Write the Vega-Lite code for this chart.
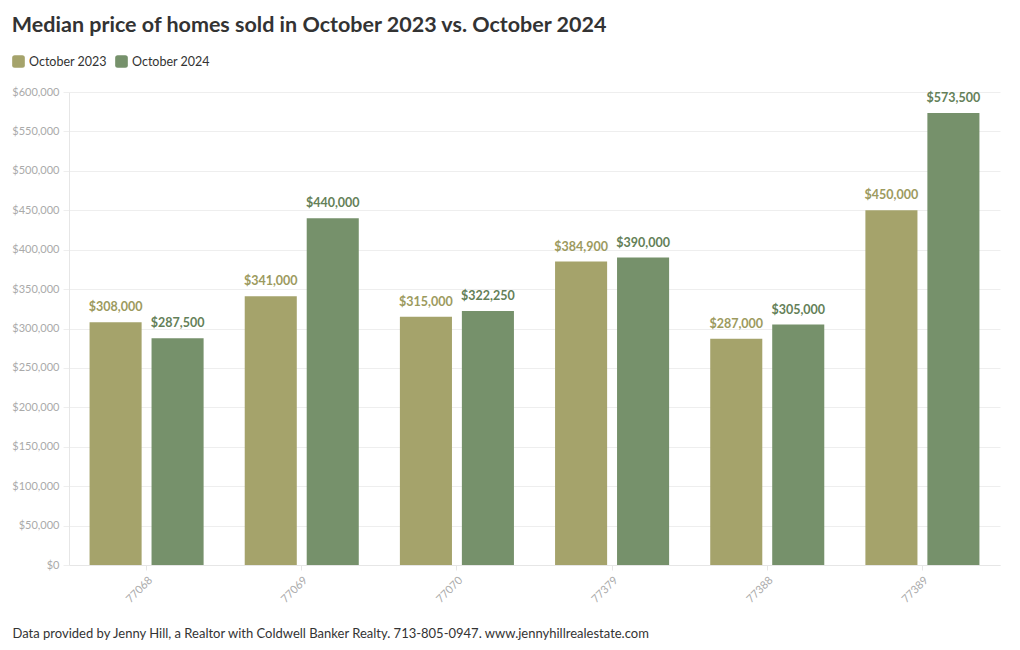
{
  "$schema": "https://vega.github.io/schema/vega-lite/v6.json",
  "width": 1020,
  "height": 650,
  "autosize": {"type": "fit", "contains": "padding"},
  "padding": {"left": 11, "top": 14, "right": 20, "bottom": 10},
  "background": "white",
  "config": {
    "font": "Lato",
    "view": {"stroke": null}
  },
  "title": {
    "text": "Median price of homes sold in October 2023 vs. October 2024",
    "anchor": "start",
    "frame": "bounds",
    "fontSize": 21.5,
    "fontWeight": "bold",
    "color": "#333333",
    "font": "Lato",
    "offset": 50
  },
  "data": {
    "values": [
      {"zip": "77068", "period": "October 2023", "price": 308000},
      {"zip": "77068", "period": "October 2024", "price": 287500},
      {"zip": "77069", "period": "October 2023", "price": 341000},
      {"zip": "77069", "period": "October 2024", "price": 440000},
      {"zip": "77070", "period": "October 2023", "price": 315000},
      {"zip": "77070", "period": "October 2024", "price": 322250},
      {"zip": "77379", "period": "October 2023", "price": 384900},
      {"zip": "77379", "period": "October 2024", "price": 390000},
      {"zip": "77388", "period": "October 2023", "price": 287000},
      {"zip": "77388", "period": "October 2024", "price": 305000},
      {"zip": "77389", "period": "October 2023", "price": 450000},
      {"zip": "77389", "period": "October 2024", "price": 573500}
    ]
  },
  "encoding": {
    "x": {
      "field": "zip",
      "type": "nominal",
      "scale": {"paddingInner": 0.265, "paddingOuter": 0.1325},
      "axis": {
        "title": "Data provided by Jenny Hill, a Realtor with Coldwell Banker Realty. 713-805-0947. www.jennyhillrealestate.com",
        "titleFont": "Lato",
        "titleFontSize": 13,
        "titleFontWeight": "normal",
        "titleColor": "#333333",
        "titleAnchor": "start",
        "titleAlign": "left",
        "titleBaseline": "middle",
        "titleX": -57,
        "titleY": 68,
        "labelAngle": -45,
        "labelColor": "#aaaaaa",
        "labelFontSize": 11,
        "labelPadding": 4,
        "domainColor": "#e6e6e6",
        "tickColor": "#e6e6e6",
        "tickSize": 5
      }
    },
    "xOffset": {
      "field": "period",
      "type": "nominal",
      "scale": {"paddingInner": 0.16}
    },
    "y": {
      "field": "price",
      "type": "quantitative",
      "scale": {"domain": [0, 600000], "nice": false},
      "axis": {
        "title": null,
        "format": "$,.0f",
        "values": [0, 50000, 100000, 150000, 200000, 250000, 300000, 350000, 400000, 450000, 500000, 550000, 600000],
        "labelOverlap": false,
        "labelColor": "#aaaaaa",
        "labelFontSize": 11,
        "labelPadding": 4,
        "gridColor": "#eeeeee",
        "domainColor": "#e6e6e6",
        "tickColor": "#eeeeee",
        "tickSize": 6
      }
    }
  },
  "layer": [
    {
      "mark": {"type": "bar"},
      "encoding": {
        "color": {
          "field": "period",
          "type": "nominal",
          "scale": {"domain": ["October 2023", "October 2024"], "range": ["#a5a36b", "#76916b"]},
          "legend": {
            "title": null,
            "orient": "none",
            "direction": "horizontal",
            "legendX": -57,
            "legendY": -37,
            "symbolType": "M-0.6,-1 L0.6,-1 Q1,-1 1,-0.6 L1,0.6 Q1,1 0.6,1 L-0.6,1 Q-1,1 -1,0.6 L-1,-0.6 Q-1,-1 -0.6,-1 Z",
            "symbolSize": 160,
            "symbolStrokeWidth": 0,
            "symbolOpacity": 1,
            "labelFontSize": 12.5,
            "labelColor": "#333333",
            "labelOffset": 4,
            "columnPadding": 8
          }
        }
      }
    },
    {
      "mark": {"type": "text", "dy": -8, "fontWeight": "bold", "fontSize": 12.5, "baseline": "bottom"},
      "encoding": {
        "text": {"field": "price", "type": "quantitative", "format": "$,.0f"},
        "color": {
          "field": "period",
          "type": "nominal",
          "scale": {"domain": ["October 2023", "October 2024"], "range": ["#9c9a5e", "#647f58"]},
          "legend": null
        }
      }
    }
  ],
  "resolve": {"scale": {"color": "independent"}}
}
